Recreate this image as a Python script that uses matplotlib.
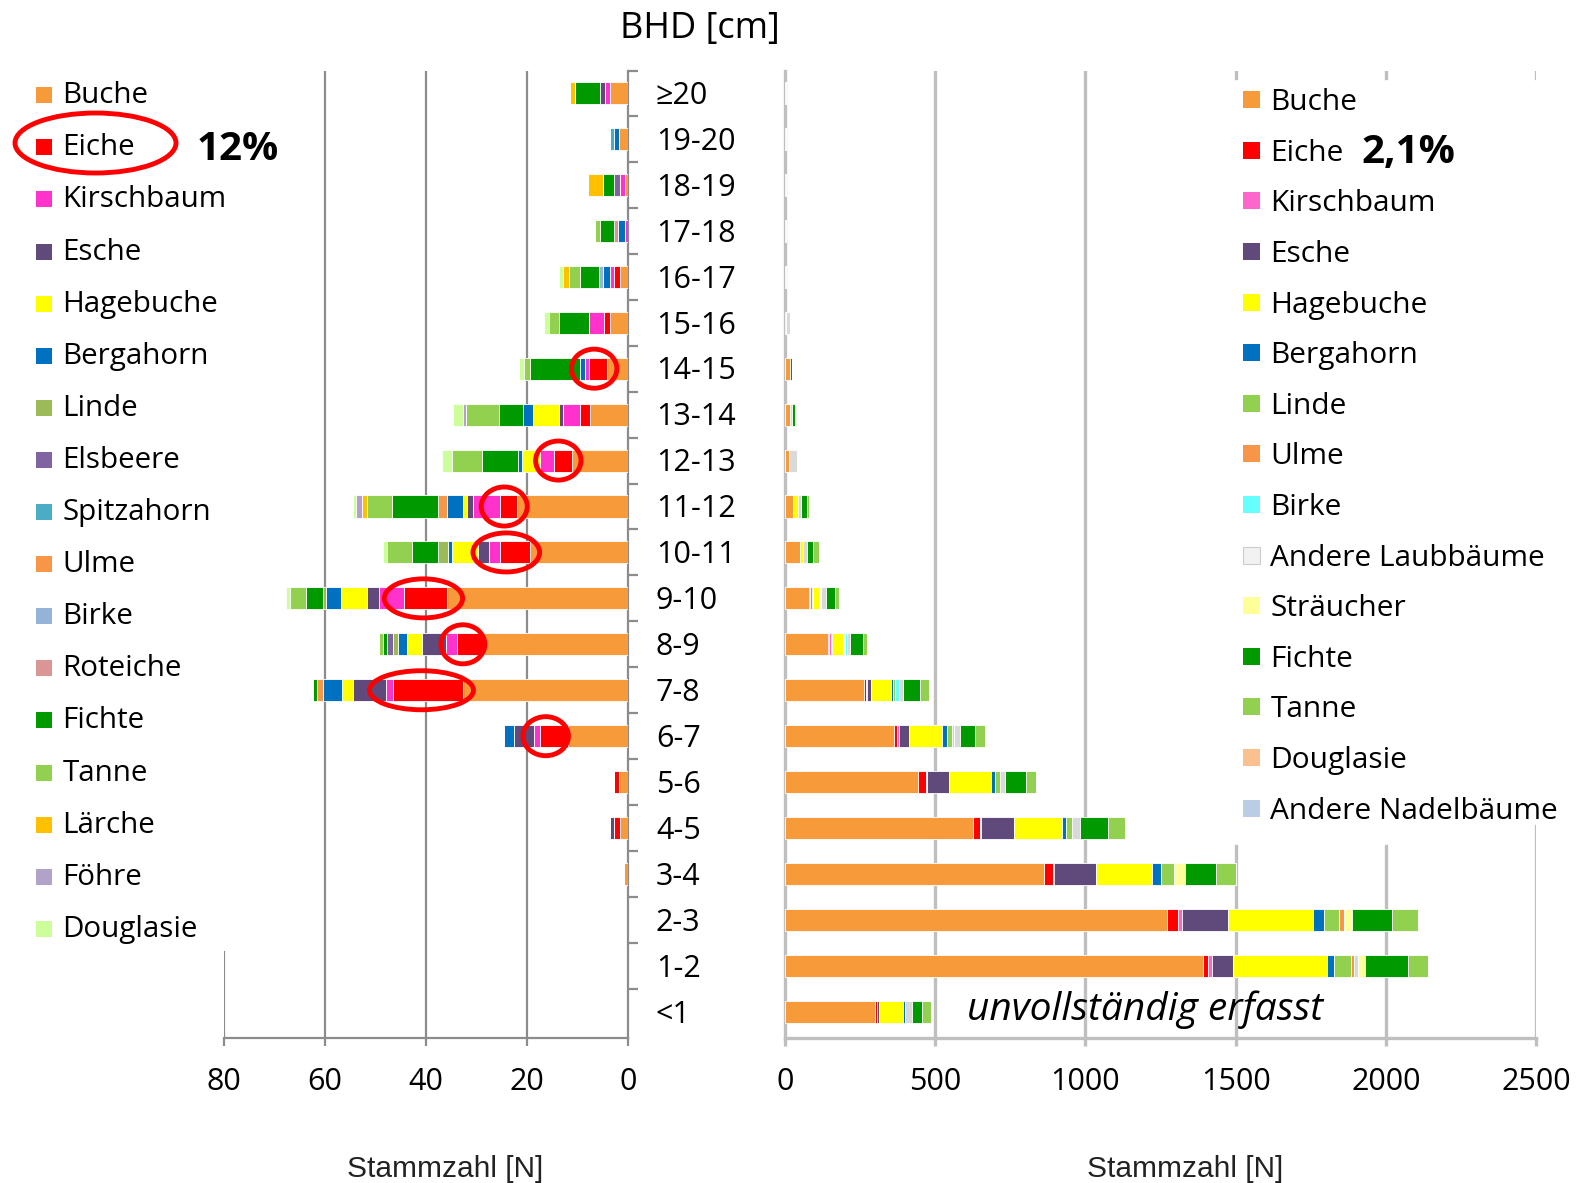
import matplotlib
matplotlib.use('Agg')
import matplotlib.pyplot as plt
from matplotlib.patches import Ellipse, Rectangle
import numpy as np

plt.rcParams['font.family'] = ['Open Sans', 'DejaVu Sans']

W, H = 1580, 1183

# Durchmesserklassen (BHD), von oben nach unten
classes = ['≥20', '19-20', '18-19', '17-18', '16-17', '15-16', '14-15', '13-14',
           '12-13', '11-12', '10-11', '9-10', '8-9', '7-8', '6-7', '5-6', '4-5',
           '3-4', '2-3', '1-2', '<1']

# Linker Bestand: Stammzahl je Baumart und Klasse
l_buche     = [3.6, 1.8, 0.5, 0, 1.6, 3.6, 4.1, 7.6, 11.1, 22.0, 19.4, 35.8, 28.5, 32.6, 11.8, 1.8, 1.6, 0.7, 0, 0, 0]
l_eiche     = [0, 0, 0, 0, 1.2, 1.1, 3.7, 2.0, 3.5, 3.4, 6.0, 8.5, 5.3, 14.0, 5.6, 1.0, 1.2, 0, 0, 0, 0]
l_kirsch    = [1.0, 0, 1.1, 0.6, 0.8, 3.1, 0.8, 3.2, 2.8, 5.2, 2.1, 5.1, 2.3, 1.3, 1.3, 0, 0, 0, 0, 0, 0]
l_esche     = [0.9, 0, 0, 0, 0, 0, 0, 0.9, 0, 1.2, 2.3, 2.3, 4.6, 6.6, 3.9, 0, 0.8, 0, 0, 0, 0]
l_hage      = [0, 0, 0, 0, 0, 0, 0, 5.1, 3.6, 0.9, 5.0, 5.1, 3.0, 2.2, 0, 0, 0, 0, 0, 0, 0]
l_berg      = [0, 1.0, 0, 1.3, 1.3, 0, 0.9, 2.0, 0.8, 3.1, 0.8, 3.0, 1.9, 3.7, 2.0, 0, 0, 0, 0, 0, 0]
l_linde     = [0, 0, 0, 0, 0, 0, 0, 0, 0, 0, 2.0, 0.6, 1.0, 0, 0, 0, 0, 0, 0, 0, 0]
l_elsbeere  = [0, 0, 1.2, 0, 0, 0, 0, 0, 0, 0, 0, 0, 1.2, 0, 0, 0, 0, 0, 0, 0, 0]
l_spitz     = [0, 0.8, 0, 0, 0, 0, 0, 0, 0, 0, 0, 0, 0, 0, 0, 0, 0, 0, 0, 0, 0]
l_ulme      = [0, 0, 0, 0, 0, 0, 0, 0, 0, 1.9, 0, 0, 0, 1.1, 0, 0, 0, 0, 0, 0, 0]
l_birke     = [0, 0, 0, 0, 0.8, 0, 0, 0, 0, 0, 0, 0, 0, 0, 0, 0, 0, 0, 0, 0, 0]
l_roteiche  = [0, 0, 0, 0.9, 0, 0, 0, 0, 0, 0, 0, 0, 0, 0, 0, 0, 0, 0, 0, 0, 0]
l_fichte    = [5.0, 0, 2.1, 2.7, 3.9, 5.8, 10.0, 4.7, 7.1, 9.1, 5.1, 3.3, 0.7, 0.9, 0, 0, 0, 0, 0, 0, 0]
l_tanne     = [0, 0, 0, 1.1, 2.0, 2.1, 1.1, 6.5, 5.9, 4.9, 5.0, 3.2, 0.9, 0, 0, 0, 0, 0, 0, 0, 0]
l_laerche   = [0.9, 0, 3.1, 0, 1.2, 0, 0, 0, 0, 1.0, 0, 0, 0, 0, 0, 0, 0, 0, 0, 0, 0]
l_foehre    = [0, 0, 0, 0, 0, 0, 0, 0.7, 0, 1.1, 0, 0, 0, 0, 0, 0, 0, 0, 0, 0, 0]
l_douglasie = [0, 0, 0, 0, 0.9, 1.0, 1.0, 1.9, 2.0, 0.7, 0.9, 0.8, 0, 0, 0, 0, 0, 0, 0, 0, 0]

left_names = ['Buche', 'Eiche', 'Kirschbaum', 'Esche', 'Hagebuche', 'Bergahorn', 'Linde',
              'Elsbeere', 'Spitzahorn', 'Ulme', 'Birke', 'Roteiche', 'Fichte', 'Tanne',
              'Lärche', 'Föhre', 'Douglasie']
left_colors = ['#F79A3A', '#FF0000', '#FF33CC', '#604A7B', '#FFFF00', '#0070C0', '#9BBB59',
               '#8064A2', '#4BACC6', '#F79646', '#95B3D7', '#D99694', '#009900', '#92D050',
               '#FFC000', '#B3A2C7', '#CCFF99']
left_data = [l_buche, l_eiche, l_kirsch, l_esche, l_hage, l_berg, l_linde, l_elsbeere,
             l_spitz, l_ulme, l_birke, l_roteiche, l_fichte, l_tanne, l_laerche,
             l_foehre, l_douglasie]

# Rechter Bestand
r_buche        = [3, 2, 2, 3, 3, 4, 15, 15, 14, 28, 50, 81, 144, 263, 364, 444, 626, 863, 1271, 1390, 300]
r_eiche        = [0, 0, 0, 0, 0, 0, 0, 0, 0, 0, 0, 3, 4, 7, 8, 24, 22, 30, 36, 18, 6]
r_kirsch       = [0, 0, 0, 0, 0, 0, 0, 0, 0, 0, 0, 5, 5, 4, 8, 4, 5, 4, 15, 12, 0]
r_esche        = [0, 0, 0, 0, 0, 0, 0, 0, 0, 0, 0, 3, 5, 12, 34, 75, 108, 139, 153, 73, 8]
r_hage         = [0, 0, 0, 0, 0, 0, 0, 0, 0, 14, 11, 22, 36, 66, 108, 140, 161, 186, 283, 310, 79]
r_berg         = [0, 0, 0, 0, 0, 0, 0, 0, 0, 0, 0, 3, 3, 9, 17, 11, 14, 30, 37, 25, 5]
r_linde        = [0, 0, 0, 0, 0, 0, 0, 0, 0, 0, 0, 4, 4, 5, 17, 19, 20, 42, 48, 57, 0]
r_ulme         = [0, 0, 0, 0, 0, 0, 0, 0, 0, 0, 0, 0, 0, 0, 0, 0, 0, 0, 19, 8, 0]
r_birke        = [0, 0, 0, 0, 0, 0, 0, 0, 0, 0, 0, 0, 4, 12, 7, 0, 0, 0, 0, 0, 0]
r_andere_laub  = [0, 0, 0, 0, 0, 13, 0, 8, 25, 12, 11, 17, 13, 14, 20, 14, 27, 0, 0, 14, 25]
r_straeucher   = [0, 0, 0, 0, 0, 0, 0, 0, 0, 0, 0, 0, 0, 0, 0, 0, 0, 36, 25, 23, 0]
r_fichte       = [0, 0, 0, 0, 0, 0, 9, 11, 0, 18, 22, 30, 42, 58, 48, 71, 91, 106, 134, 144, 33]
r_tanne        = [0, 0, 0, 0, 0, 0, 0, 0, 0, 8, 20, 12, 13, 28, 36, 34, 59, 64, 87, 68, 30]
r_douglasie    = [0] * 21
r_andere_nadel = [0] * 21

right_names = ['Buche', 'Eiche', 'Kirschbaum', 'Esche', 'Hagebuche', 'Bergahorn', 'Linde',
               'Ulme', 'Birke', 'Andere Laubbäume', 'Sträucher', 'Fichte', 'Tanne',
               'Douglasie', 'Andere Nadelbäume']
right_colors = ['#F79A3A', '#FF0000', '#FF66CC', '#604A7B', '#FFFF00', '#0070C0', '#92D050',
                '#F79646', '#66FFFF', '#D9D9D9', '#FFFF99', '#009900', '#92D050',
                '#FAC090', '#B9CDE5']
right_legend_colors = right_colors[:9] + ['#F2F2F2'] + right_colors[10:]
right_data = [r_buche, r_eiche, r_kirsch, r_esche, r_hage, r_berg, r_linde, r_ulme,
              r_birke, r_andere_laub, r_straeucher, r_fichte, r_tanne, r_douglasie,
              r_andere_nadel]

grid_l = '#8C8C8C'
grid_r = '#BFBFBF'


def fx(px):
    return px / W


def fy(py):
    return 1 - py / H


fig = plt.figure(figsize=(W / 100, H / 100), dpi=100)
ax_l = fig.add_axes([fx(224), fy(1038), 404 / W, 967 / H])
ax_r = fig.add_axes([fx(785), fy(1038), 751 / W, 967 / H])

y = np.arange(len(classes))

# left panel
cum = np.zeros(len(classes))
for vals, col in zip(left_data, left_colors):
    vals = np.array(vals)
    ax_l.barh(y, vals, left=cum, height=0.48, color=col, edgecolor='white',
              linewidth=0.6, zorder=3)
    cum += vals

ax_l.set_xlim(80, 0)
ax_l.set_ylim(20.57, -0.48)
for v in [20, 40, 60]:
    ax_l.axvline(v, color=grid_l, lw=1.6, zorder=1)
ax_l.axvline(80, ymin=0, ymax=(1038 - 952) / 967, color=grid_l, lw=1.6, zorder=1)
for s in ['left', 'top']:
    ax_l.spines[s].set_visible(False)
for s in ['right', 'bottom']:
    ax_l.spines[s].set_color(grid_l)
    ax_l.spines[s].set_linewidth(1.6)
ax_l.set_xticks([80, 60, 40, 20, 0])
ax_l.yaxis.tick_right()
ax_l.set_yticks([-0.48] + list(np.arange(0.5, 20.5, 1)))
ax_l.set_yticklabels([])
ax_l.tick_params(axis='y', direction='out', length=7, width=1.6, color=grid_l)
ax_l.tick_params(axis='x', direction='out', length=6, width=1.6, color=grid_l,
                 labelsize=22, pad=15)

for i, c in enumerate(classes):
    ax_l.text(1.069, i + 0.235, c, transform=ax_l.get_yaxis_transform(),
              ha='left', va='baseline', fontsize=22, clip_on=False)

# ellipses around oak segments
ell = [(6.7, 6, 9.0), (13.8, 8, 9.0), (24.5, 9, 9.1), (24.1, 10, 13.2),
       (40.5, 11, 15.5), (32.7, 12, 8.7), (40.9, 13, 20.6), (16.3, 14, 9.0)]
for xc, yc, w in ell:
    ax_l.add_patch(Ellipse((xc, yc), w, 0.85, fill=False, edgecolor='#FF0000',
                           lw=3.5, zorder=5, clip_on=False))

# right panel
cum = np.zeros(len(classes))
for vals, col in zip(right_data, right_colors):
    vals = np.array(vals)
    ax_r.barh(y, vals, left=cum, height=0.48, color=col, edgecolor='white',
              linewidth=0.6, zorder=3)
    cum += vals

ax_r.set_xlim(0, 2500)
ax_r.set_ylim(20.57, -0.48)
for v in [500, 1000]:
    ax_r.axvline(v, color=grid_r, lw=2.4, zorder=1)
ax_r.axvline(1500, ymax=(1038 - 846) / 967, color=grid_r, lw=2.4, zorder=1)
ax_r.axvline(2000, ymax=(1038 - 846) / 967, color=grid_r, lw=2.4, zorder=1)
ax_r.axvline(2500, ymax=(1038 - 826) / 967, color=grid_r, lw=2.4, zorder=1)
for v in [1500, 2000, 2500]:
    ax_r.axvline(v, ymin=0.993, ymax=1.0, color=grid_r, lw=2.4, zorder=1)
for s in ['right', 'top']:
    ax_r.spines[s].set_visible(False)
for s in ['left', 'bottom']:
    ax_r.spines[s].set_color(grid_r)
    ax_r.spines[s].set_linewidth(2.4)
ax_r.set_xticks([0, 500, 1000, 1500, 2000, 2500])
ax_r.set_yticks([])
ax_r.tick_params(axis='x', direction='out', length=6, width=2.4, color=grid_r,
                 labelsize=22, pad=15)

# axis titles
fig.text(fx(700), fy(37.5), 'BHD [cm]', fontsize=26, ha='center', va='baseline')
fig.text(fx(445), fy(1177), 'Stammzahl [N]', fontsize=21.5, ha='center', va='baseline',
         family=['Liberation Sans', 'DejaVu Sans'], color='#222222')
fig.text(fx(1185), fy(1177), 'Stammzahl [N]', fontsize=21.5, ha='center', va='baseline',
         family=['Liberation Sans', 'DejaVu Sans'], color='#222222')
fig.text(fx(967), fy(1020), 'unvollständig erfasst', fontsize=28, style='italic',
         ha='left', va='baseline')

# left legend
for k, (name, col) in enumerate(zip(left_names, left_colors)):
    yc = 92.7 + k * 52.1
    fig.add_artist(Rectangle((fx(35.5), fy(yc + 10.5)), 16 / W, 16 / H,
                             transform=fig.transFigure, facecolor=col,
                             edgecolor='none'))
    fig.text(fx(62.5), fy(yc + 10.5), name, fontsize=21.3, ha='left', va='baseline')

fig.add_artist(Ellipse((fx(95.5), fy(143)), 161 / W, 60 / H, transform=fig.transFigure,
                       fill=False, edgecolor='#FF0000', lw=3.5))
fig.text(fx(197), fy(160), '12%', fontsize=29, fontweight='bold', ha='left', va='baseline')

# right legend
for k, (name, col) in enumerate(zip(right_names, right_legend_colors)):
    yc = 99.7 + k * 50.6
    edge = '#CCCCCC' if name == 'Andere Laubbäume' else 'none'
    fig.add_artist(Rectangle((fx(1243), fy(yc + 8.5)), 17 / W, 17 / H,
                             transform=fig.transFigure, facecolor=col,
                             edgecolor=edge, lw=0.8))
    fig.text(fx(1270.5), fy(yc + 10.5), name, fontsize=21.5, ha='left', va='baseline')

fig.text(fx(1361), fy(163), '2,1%', fontsize=29, fontweight='bold', ha='left', va='baseline')

fig.savefig('out.png', dpi=100)
